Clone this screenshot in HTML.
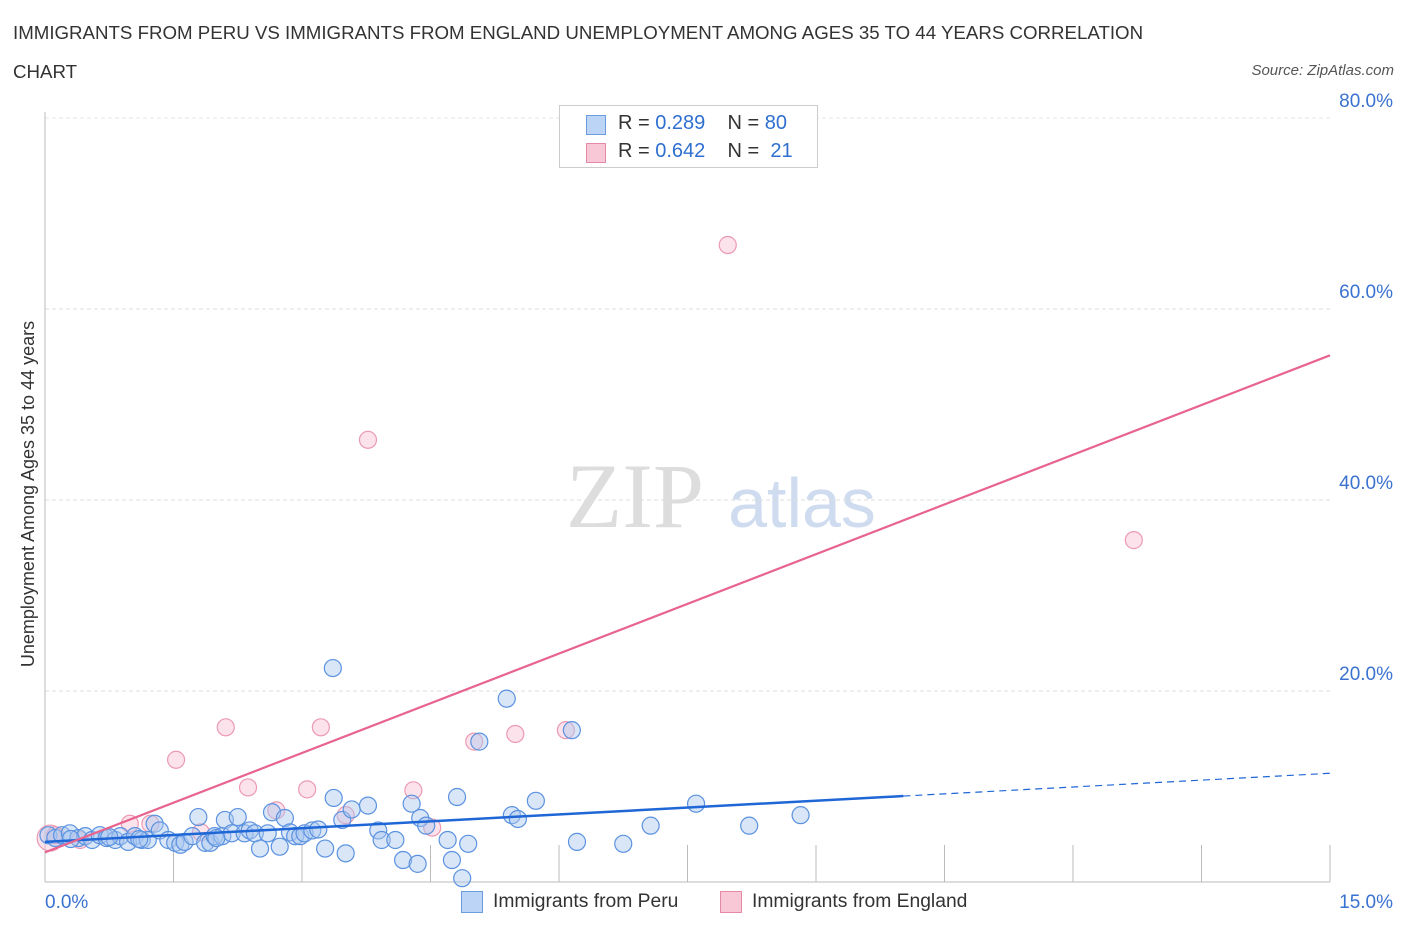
<!DOCTYPE html>
<html><head><meta charset="utf-8"><style>
body{margin:0;background:#fff;font-family:"Liberation Sans",sans-serif;}
#wrap{position:relative;width:1406px;height:930px;overflow:hidden;}
.title{position:absolute;left:13px;font-size:18.7px;color:#333;}
</style></head><body><div id="wrap">
<div class="title" style="top:22px">IMMIGRANTS FROM PERU VS IMMIGRANTS FROM ENGLAND UNEMPLOYMENT AMONG AGES 35 TO 44 YEARS CORRELATION</div>
<div class="title" style="top:61px">CHART</div>
<div style="position:absolute;right:12px;top:62px;font-size:15px;font-style:italic;color:#555">Source: ZipAtlas.com</div>
<svg id="svg" width="1406" height="930" style="position:absolute;left:0;top:0">
<text x="635" y="527" font-family="Liberation Serif" font-size="92" fill="#ddd" text-anchor="middle">ZIP</text>
<text x="802" y="527" font-size="70" fill="#cfdcf0" text-anchor="middle">atlas</text>
<text transform="translate(34,494) rotate(-90)" font-size="18" fill="#333" text-anchor="middle">Unemployment Among Ages 35 to 44 years</text>
</svg>
<div style="position:absolute;left:559px;top:105px;width:257px;height:61px;border:1px solid #ccc;background:#fff;font-size:20px;color:#333">
<div style="position:absolute;left:26px;top:9px;width:18px;height:18px;background:#bcd4f6;border:1px solid #6d9be0"></div>
<div style="position:absolute;left:58px;top:6px">R = <span style="color:#2f6fd0">0.289</span>&nbsp;&nbsp;&nbsp; N = <span style="color:#2f6fd0">80</span></div>
<div style="position:absolute;left:26px;top:37px;width:18px;height:18px;background:#f8c8d6;border:1px solid #e58aa6"></div>
<div style="position:absolute;left:58px;top:34px">R = <span style="color:#2f6fd0">0.642</span>&nbsp;&nbsp;&nbsp; N = &nbsp;<span style="color:#2f6fd0">21</span></div>
</div>
<div style="position:absolute;left:461px;top:891px;width:20px;height:20px;background:#bcd4f6;border:1px solid #6d9be0"></div>
<div style="position:absolute;left:493px;top:891px;font-size:19.3px;color:#333">Immigrants from Peru</div>
<div style="position:absolute;left:720px;top:891px;width:20px;height:20px;background:#f8c8d6;border:1px solid #e58aa6"></div>
<div style="position:absolute;left:752px;top:891px;font-size:19.3px;color:#333">Immigrants from England</div>
</div>
<script>
const yTicks=[20,40,60,80];
const yTickLabels=["20.0%","40.0%","60.0%","80.0%"];
const xTickLabels=["0.0%","15.0%"];
const peruX=[0.04,0.12,0.2,0.29,0.39,0.47,0.55,0.64,0.72,0.82,0.88,0.97,1.05,1.13,1.2,1.28,1.34,1.44,1.52,1.58,1.63,1.72,1.79,1.87,1.93,1.98,2.07,2.1,2.18,2.25,2.33,2.39,2.45,2.51,2.6,2.65,2.74,2.8,2.86,2.92,2.98,3.03,3.12,3.19,3.27,3.36,3.37,3.47,3.51,3.58,3.77,3.89,3.93,4.09,4.18,4.28,4.35,4.38,4.45,4.7,4.75,4.81,4.87,4.94,5.07,5.39,5.45,5.52,5.73,6.21,6.75,7.07,7.6,8.22,8.82,6.15,0.3,0.75,1.1,2.0];
const peruY=[4.9,4.6,4.9,5.1,4.6,4.8,4.4,4.9,4.6,4.4,4.8,4.2,4.8,4.4,4.4,6.1,5.4,4.4,4.1,3.9,4.2,4.8,6.8,4.1,4.1,4.8,4.8,6.5,5.1,6.8,5.1,5.4,5.1,3.5,5.1,7.3,3.7,6.7,5.2,4.8,4.8,5.1,5.4,5.5,3.5,22.4,8.8,6.5,3.0,7.6,8.0,5.4,4.4,4.4,2.3,8.2,1.9,6.7,5.9,4.4,2.3,8.9,0.4,4.0,14.7,19.2,7.0,6.6,8.5,4.2,4.0,5.9,8.2,5.9,7.0,15.9,4.5,4.7,4.5,4.6];
const engX=[0.06,0.12,0.41,0.99,1.23,1.53,1.82,2.11,2.37,2.7,3.06,3.22,3.51,3.77,4.3,4.52,5.01,5.49,6.08,7.97,12.71];
const engY=[4.6,4.9,4.4,6.1,6.1,12.8,5.2,16.2,9.9,7.5,9.7,16.2,7.0,46.3,9.6,5.7,14.7,15.5,15.9,66.7,35.8];
const peruTrend=[4.2,0.479];
const engTrend=[3.1,3.47];
const svg=document.getElementById('svg'),NS='http://www.w3.org/2000/svg';
const X0=45,X1=1330,Y0=882,PY=9.55;
const sx=v=>X0+(X1-X0)*v/15, sy=v=>Y0-v*PY;
function mk(t,a){const e=document.createElementNS(NS,t);for(const k in a)e.setAttribute(k,a[k]);svg.appendChild(e);return e;}
yTicks.forEach((v,i)=>{
 const g=mk('line',{x1:X0,x2:X1,y1:sy(v),y2:sy(v),stroke:'#ddd','stroke-dasharray':'4,3'});
 
 
 const t=mk('text',{x:1393,y:sy(v)-11,'text-anchor':'end','font-size':19,fill:'#3a72d0'});t.textContent=yTickLabels[i];
 
 
});
const topGrid=mk('line',{x1:X0,x2:X1,y1:118,y2:118,stroke:'#e5e5e5','stroke-dasharray':'4,3'});


for(let i=0;i<=10;i++){const x=sx(i*1.5);const tk=mk('line',{x1:x,x2:x,y1:845,y2:Y0,stroke:'#bbb'});
 
 }
const ax=mk('line',{x1:X0,x2:X0,y1:112,y2:Y0,stroke:'#bbb'});


const bx=mk('line',{x1:X0,x2:X1,y1:Y0,y2:Y0,stroke:'#bbb'});


const xl=mk('text',{x:45,y:908,'font-size':19,fill:'#3a72d0'});xl.textContent=xTickLabels[0];


const xr=mk('text',{x:1393,y:908,'font-size':19,fill:'#3a72d0','text-anchor':'end'});xr.textContent=xTickLabels[1];


engX.forEach((x,i)=>{const c=mk('circle',{cx:sx(x),cy:sy(engY[i]),r:i==0?13:8.5,fill:'rgba(248,190,208,0.45)',stroke:'#eb9ab3','stroke-width':1.2});
 
 });
peruX.forEach((x,i)=>{const c=mk('circle',{cx:sx(x),cy:sy(peruY[i]),r:8.5,fill:'rgba(170,200,240,0.45)',stroke:'#5b92e0','stroke-width':1.2});
 
 });
const pl=mk('line',{x1:sx(0),y1:sy(peruTrend[0]),x2:sx(10.02),y2:sy(peruTrend[0]+peruTrend[1]*10.02),stroke:'#1f66d6','stroke-width':2.5});


const pd=mk('line',{x1:sx(10.02),y1:sy(peruTrend[0]+peruTrend[1]*10.02),x2:sx(15),y2:sy(peruTrend[0]+peruTrend[1]*15),stroke:'#1f66d6','stroke-width':1.2,'stroke-dasharray':'7,5'});


const el=mk('line',{x1:sx(0),y1:sy(engTrend[0]),x2:sx(15),y2:sy(engTrend[0]+engTrend[1]*15),stroke:'#e8648f','stroke-width':2.2});


</script></body></html>
